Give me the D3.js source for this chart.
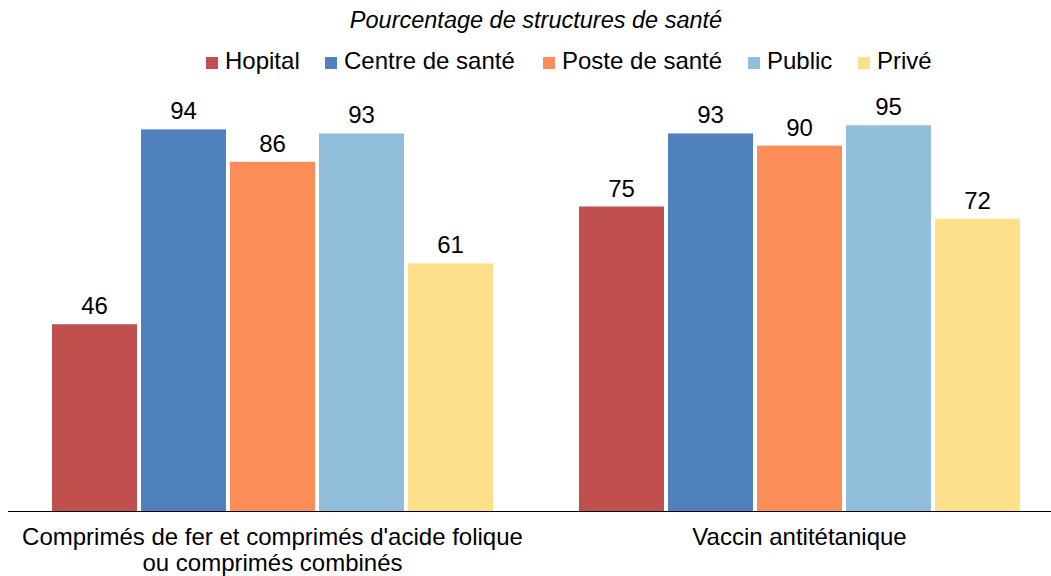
<!DOCTYPE html>
<html>
<head>
<meta charset="utf-8">
<script src="https://cdn.jsdelivr.net/npm/d3@7"></script>
<style>
  body { margin: 0; background: #fff; }
  text { font-family: "Liberation Sans", Arial, sans-serif; fill: #000; }
</style>
</head>
<body>
<script>
  var w = 1051; //svg width
  var h = 576; //svg height

  //data
  var categories = [
      ["Comprimés de fer et comprimés d'acide folique", "ou comprimés combinés"],
      ["Vaccin antitétanique"]
  ];
  var series = ["Hopital", "Centre de santé", "Poste de santé", "Public", "Privé"];
  var colors = ["#C0504D", "#4F81BD", "#FC8D59", "#91BFDB", "#FEE08B"];
  var hopital = [46, 75];
  var centreSante = [94, 93];
  var posteSante = [86, 90];
  var publicVals = [93, 95];
  var prive = [61, 72];
  var seriesValues = [hopital, centreSante, posteSante, publicVals, prive];

  var baseline = 511;

  var svg = d3.select("body")
      .append("svg")
      .attr("width", w)
      .attr("height", h);

  //SCALES
  var x0 = d3.scaleBand()
      .domain(d3.range(categories.length))
      .range([9, 1063]);

  var x1 = d3.scaleBand()
      .domain(series)
      .range([0, 441])
      .paddingInner(0.045);

  var groupOffset = (x0.bandwidth() - 441) / 2;

  var y = d3.scaleLinear()
      .domain([0, 100])
      .range([baseline, 105]);

  var color = d3.scaleOrdinal().domain(series).range(colors);

  //TITLE
  svg.append("text")
      .attr("x", 536)
      .attr("y", 28)
      .attr("text-anchor", "middle")
      .style("font-size", "23.5px")
      .style("font-style", "italic")
      .text("Pourcentage de structures de santé");

  //LEGEND
  var legendX = [206, 325, 543, 748, 858];
  var legend = svg.selectAll(".legend")
      .data(series)
      .enter()
      .append("g")
      .attr("class", "legend")
      .attr("transform", function(d, i) { return "translate(" + legendX[i] + ",57)"; });

  legend.append("rect")
      .attr("width", 12)
      .attr("height", 12)
      .attr("fill", function(d) { return color(d); });

  legend.append("text")
      .attr("x", 19)
      .attr("y", 12)
      .style("font-size", "24px")
      .text(function(d) { return d; });

  //BARS
  var flat = [];
  categories.forEach(function(c, ci) {
      series.forEach(function(s, si) {
          flat.push({ cat: ci, series: s, value: seriesValues[si][ci] });
      });
  });

  svg.selectAll("rect.bar")
      .data(flat)
      .enter()
      .append("rect")
      .attr("class", "bar")
      .attr("x", function(d) { return x0(d.cat) + groupOffset + x1(d.series); })
      .attr("y", function(d) { return y(d.value); })
      .attr("width", x1.bandwidth())
      .attr("height", function(d) { return baseline - y(d.value); })
      .attr("fill", function(d) { return color(d.series); });

  //LABELS
  svg.selectAll("text.barLabel")
      .data(flat)
      .enter()
      .append("text")
      .attr("class", "barLabel")
      .attr("x", function(d) { return x0(d.cat) + groupOffset + x1(d.series) + x1.bandwidth() / 2; })
      .attr("y", function(d) { return y(d.value) - 10; })
      .attr("text-anchor", "middle")
      .style("font-size", "24px")
      .text(function(d) { return d.value; });

  //AXIS
  svg.append("line")
      .attr("x1", 8)
      .attr("x2", w)
      .attr("y1", baseline + 0.5)
      .attr("y2", baseline + 0.5)
      .attr("stroke", "#000")
      .attr("stroke-width", 1);

  var catLabels = svg.selectAll("text.catLabel")
      .data(categories)
      .enter()
      .append("text")
      .attr("class", "catLabel")
      .attr("text-anchor", "middle")
      .style("font-size", "24px");

  catLabels.selectAll("tspan")
      .data(function(d, i) { return d.map(function(line) { return { line: line, cat: i }; }); })
      .enter()
      .append("tspan")
      .attr("x", function(d) { return x0(d.cat) + groupOffset + 441 / 2; })
      .attr("y", function(d, j) { return 545 + j * 26; })
      .text(function(d) { return d.line; });
</script>
</body>
</html>
